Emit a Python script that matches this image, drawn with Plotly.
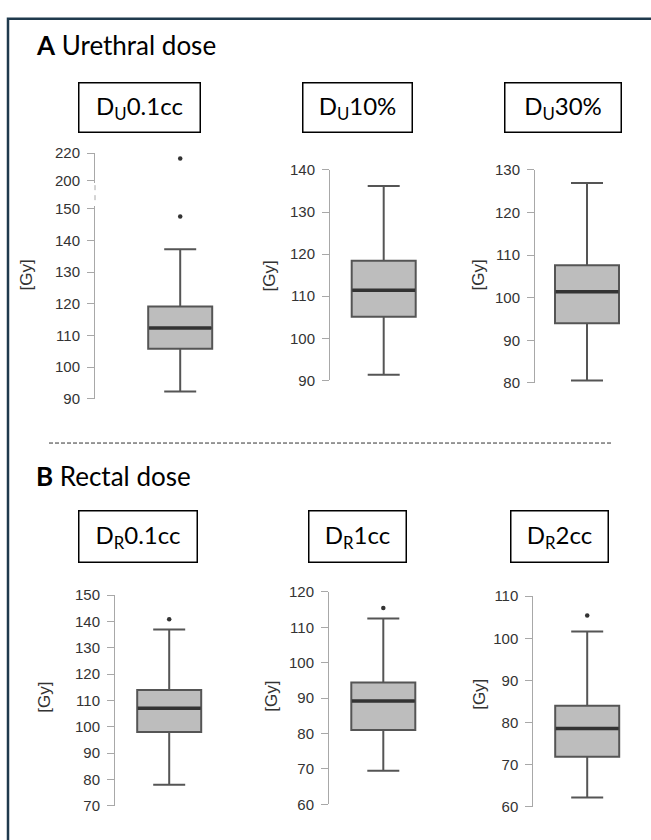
import plotly.graph_objects as go

# ---------------- data ----------------
urethral_metrics = ["D<sub>U</sub>0.1cc", "D<sub>U</sub>10%", "D<sub>U</sub>30%"]
rectal_metrics = ["D<sub>R</sub>0.1cc", "D<sub>R</sub>1cc", "D<sub>R</sub>2cc"]

urethral_lower_whisker = [92.3, 91.3, 80.6]
urethral_q1 = [105.8, 105.1, 94.0]
urethral_median = [112.3, 111.4, 101.4]
urethral_q3 = [119.1, 118.4, 107.6]
urethral_upper_whisker = [137.2, 136.2, 126.9]
urethral_outliers = [[216.0, 147.6], [], []]

rectal_lower_whisker = [78.0, 69.5, 62.2]
rectal_q1 = [98.0, 81.0, 71.9]
rectal_median = [107.1, 89.2, 78.6]
rectal_q3 = [114.0, 94.4, 84.0]
rectal_upper_whisker = [137.0, 112.5, 101.6]
rectal_outliers = [[140.9], [115.5], [105.4]]

urethral_tick_min = [90, 90, 80]
urethral_tick_max = [150, 140, 130]
urethral_break_ticks = [200, 220]   # upper segment of the broken axis (D_U0.1cc)
rectal_tick_min = [70, 60, 60]
rectal_tick_max = [150, 120, 110]
tick_step = 10
y_unit = "[Gy]"

# ---------------- layout geometry (pixels) ----------------
W, H = 651, 840
# per panel: y-axis line x, box centre x, top-tick y, bottom-tick y
panel_geom = [
    (95, 180.2, 204.0, 397.7),
    (330, 383.7, 164.3, 379.0),
    (535, 587.0, 164.0, 381.7),
    (115, 169.2, 598.3, 813.3),
    (329, 383.3, 595.0, 811.7),
    (533.3, 587.2, 599.3, 814.3),
]
box_px = 64
label_x = [26, 269, 478, 45, 272, 480]
label_y = [272, 273, 272, 703, 702, 700]
title_boxes = [  # x0, x1, y0, y1
    (79, 199, 77, 125), (303, 411, 77, 125), (505, 620, 77, 125),
    (79, 196, 513, 563), (309, 405, 513, 563), (511, 607, 513, 563),
]

def px(xp):
    return xp / W

def py(yp):
    return 1 - yp / H

metrics = urethral_metrics + rectal_metrics
lw = urethral_lower_whisker + rectal_lower_whisker
q1 = urethral_q1 + rectal_q1
med = urethral_median + rectal_median
q3 = urethral_q3 + rectal_q3
uw = urethral_upper_whisker + rectal_upper_whisker
outl = urethral_outliers + rectal_outliers
tmin = urethral_tick_min + rectal_tick_min
tmax = urethral_tick_max + rectal_tick_max

TICK_FONT = dict(family="Liberation Sans, Arial, sans-serif", size=15, color="#333333")
AXIS_COLOR = "#a8a8a8"

fig = go.Figure()
layout = {}
annotations = []
shapes = []

for i in range(6):
    n = i + 1
    xs = "" if n == 1 else str(n)
    ax_x, cx, ytop, ybot = panel_geom[i]
    half = cx - ax_x
    bw = box_px / half  # box width in data units (range [-1, 1])
    lo, hi = tmin[i], tmax[i]
    hi_r = hi + 1 if i == 0 else hi
    scale = (ybot - ytop) / (hi - lo)
    top_px = ytop - (hi_r - hi) * scale

    layout["xaxis" + xs] = dict(domain=[px(ax_x), px(2 * cx - ax_x)], range=[-1, 1],
                                visible=False, anchor="y" + xs, fixedrange=True)
    layout["yaxis" + xs] = dict(domain=[py(ybot), py(top_px)], range=[lo, hi_r],
                                anchor="x" + xs,
                                tickvals=list(range(lo, hi + 1, tick_step)),
                                ticks="outside", ticklen=7, tickwidth=1, tickcolor=AXIS_COLOR,
                                showline=True, linecolor=AXIS_COLOR, linewidth=1,
                                showgrid=False, zeroline=False, tickfont=TICK_FONT,
                                ticklabelstandoff=4, fixedrange=True)

    fig.add_trace(go.Box(x=[0], q1=[q1[i]], median=[med[i]], q3=[q3[i]],
                         lowerfence=[lw[i]], upperfence=[uw[i]],
                         orientation="v", width=bw, whiskerwidth=0.5,
                         fillcolor="#bdbdbd", line=dict(color="#555555", width=2),
                         boxpoints=False, showlegend=False, hoverinfo="skip",
                         xaxis="x" + xs, yaxis="y" + xs))
    fig.add_trace(go.Scatter(x=[-bw / 2 + 0.01, bw / 2 - 0.01], y=[med[i], med[i]],
                             mode="lines", line=dict(color="#333333", width=3.5),
                             showlegend=False, hoverinfo="skip",
                             xaxis="x" + xs, yaxis="y" + xs))
    low_out = [v for v in outl[i] if v <= hi_r]
    if low_out:
        fig.add_trace(go.Scatter(x=[0] * len(low_out), y=low_out, mode="markers",
                                 marker=dict(color="#333333", size=4.5),
                                 showlegend=False, hoverinfo="skip",
                                 xaxis="x" + xs, yaxis="y" + xs))

    annotations.append(dict(text=y_unit, x=px(label_x[i]), y=py(label_y[i]),
                            xref="paper", yref="paper", textangle=-90,
                            showarrow=False, xanchor="center", yanchor="middle",
                            font=dict(family="Liberation Sans, Arial, sans-serif",
                                      size=17, color="#333333")))
    bx0, bx1, by0, by1 = title_boxes[i]
    annotations.append(dict(text=metrics[i], x=px((bx0 + bx1) / 2), y=py((by0 + by1) / 2),
                            xref="paper", yref="paper", showarrow=False,
                            xanchor="center", yanchor="middle",
                            width=bx1 - bx0, height=by1 - by0, borderpad=0,
                            bordercolor="#000000", borderwidth=1.5, bgcolor="white",
                            font=dict(family="Lato, Carlito, sans-serif", size=24,
                                      color="#000000")))

# upper segment of the broken axis for D_U0.1cc
ax_x, cx, _, _ = panel_geom[0]
up_lo, up_hi = 198, 220
up_top, up_200 = 147.0, 175.0
up_scale = (up_200 - up_top) / (up_hi - urethral_break_ticks[0])
up_bot = up_200 + (urethral_break_ticks[0] - up_lo) * up_scale
layout["xaxis7"] = dict(domain=[px(ax_x), px(2 * cx - ax_x)], range=[-1, 1],
                        visible=False, anchor="y7", fixedrange=True)
layout["yaxis7"] = dict(domain=[py(up_bot), py(up_top)], range=[up_lo, up_hi], anchor="x7",
                        tickvals=urethral_break_ticks, ticks="outside", ticklen=7, tickwidth=1,
                        tickcolor=AXIS_COLOR, showline=True, linecolor=AXIS_COLOR, linewidth=1,
                        showgrid=False, zeroline=False, tickfont=TICK_FONT,
                        ticklabelstandoff=4, fixedrange=True)
up_out = [v for v in outl[0] if v > tmax[0] + 1]
fig.add_trace(go.Scatter(x=[0] * len(up_out), y=up_out, mode="markers",
                         marker=dict(color="#333333", size=4.5), showlegend=False,
                         hoverinfo="skip", xaxis="x7", yaxis="y7"))
shapes.append(dict(type="line", xref="paper", yref="paper", x0=px(ax_x), x1=px(ax_x),
                   y0=py(up_bot + 2), y1=py(panel_geom[0][2] - 6),
                   line=dict(color=AXIS_COLOR, width=1, dash="5px,5px")))

# section titles
annotations.append(dict(text="<b>A</b> Urethral dose", x=px(34), y=py(37), xref="paper",
                        yref="paper", xanchor="left", yanchor="middle", showarrow=False,
                        font=dict(family="Lato, Carlito, sans-serif", size=26, color="#000000")))
annotations.append(dict(text="<b>B</b> Rectal dose", x=px(34), y=py(477), xref="paper",
                        yref="paper", xanchor="left", yanchor="middle", showarrow=False,
                        font=dict(family="Lato, Carlito, sans-serif", size=26, color="#000000")))

# separator and outer frame
shapes.append(dict(type="line", xref="paper", yref="paper", x0=px(49), x1=px(612),
                   y0=py(443), y1=py(443), line=dict(color="#333333", width=1, dash="4px,2px")))
shapes.append(dict(type="rect", xref="paper", yref="paper", x0=px(8), x1=1.05,
                   y0=-0.05, y1=py(10), line=dict(color="#1f3a4d", width=2.5)))

fig.update_layout(width=W, height=H, margin=dict(l=0, r=0, t=0, b=0),
                  paper_bgcolor="white", plot_bgcolor="white",
                  annotations=annotations, shapes=shapes, **layout)

fig.write_html("out.html", config={"displayModeBar": False, "staticPlot": True},
               post_script="document.body.style.margin='0px';document.body.style.overflow='hidden';")
